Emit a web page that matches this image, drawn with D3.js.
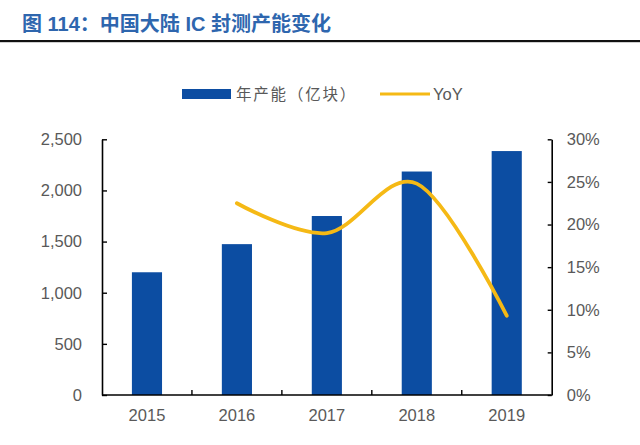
<!DOCTYPE html>
<html><head><meta charset="utf-8">
<script src="https://cdn.jsdelivr.net/npm/d3@7"></script>
<style>
html,body{margin:0;padding:0;background:#fff;}
svg{display:block;}
</style>
</head><body>
<svg id="c" width="640" height="445"></svg>
<script>
const years = ["2015","2016","2017","2018","2019"];
const capacity = [1200, 1475, 1750, 2185, 2385];
const yoy = [null, 0.225, 0.190, 0.248, 0.093];
const leftTicks = [0, 500, 1000, 1500, 2000, 2500];
const rightTicks = [0, 0.05, 0.10, 0.15, 0.20, 0.25, 0.30];
const titleText = "图 114：中国大陆 IC 封测产能变化";
const legendBar = "年产能（亿块）";
const legendLine = "YoY";

const svg = d3.select("#c");
const latin = "'Liberation Sans', Arial, sans-serif";
const cjk = "'Noto Sans CJK SC', sans-serif";
const grey = "#595959";
const blue = "#0C4DA2";
const yellow = "#F5B915";

const L = 102, R = 551.7, T = 139.3, B = 395;

// title
svg.append("text").attr("x", 22).attr("y", 31)
  .attr("font-family", "'Liberation Sans', 'Noto Sans CJK SC', sans-serif")
  .attr("font-weight", "bold").attr("font-size", 20).attr("fill", "#2E66AE")
  .text(titleText);
svg.append("rect").attr("x", 0).attr("y", 40).attr("width", 640).attr("height", 2.2).attr("fill", "#111");

const x = d3.scaleBand().domain(years).range([L, R]).paddingInner(0.665).paddingOuter(0.3325);
const yL = d3.scaleLinear().domain([0, 2500]).range([B, T]);
const yR = d3.scaleLinear().domain([0, 0.30]).range([B, T]);

// bars
svg.append("g").selectAll("rect").data(years).join("rect")
  .attr("x", d => x(d)).attr("width", x.bandwidth())
  .attr("y", (d, i) => yL(capacity[i])).attr("height", (d, i) => B - yL(capacity[i]))
  .attr("fill", blue);

// line
const pts = years.map((d, i) => [x(d) + x.bandwidth() / 2, yoy[i]]).filter(p => p[1] != null);
const line = d3.line().x(p => p[0]).y(p => yR(p[1])).curve(d3.curveCardinal.tension(0));
svg.append("path").attr("d", line(pts)).attr("fill", "none")
  .attr("stroke", yellow).attr("stroke-width", 3.8).attr("stroke-linecap", "round");

// left axis
const gL = svg.append("g").attr("transform", `translate(${L},0)`)
  .call(d3.axisLeft(yL).tickValues(leftTicks).tickFormat(d3.format(",")).tickSizeInner(-5).tickSizeOuter(0).tickPadding(20));
// right axis
const gR = svg.append("g").attr("transform", `translate(${R},0)`)
  .call(d3.axisRight(yR).tickValues(rightTicks).tickFormat(d3.format(".0%")).tickSizeInner(-4).tickSizeOuter(0).tickPadding(15));
// bottom axis
const gB = svg.append("g").attr("transform", `translate(0,${B})`)
  .call(d3.axisBottom(x).tickSize(0).tickPadding(14));
[gL, gR, gB].forEach(g => {
  g.select(".domain").attr("stroke", "#000").attr("stroke-width", 1.6);
  g.selectAll(".tick line").attr("stroke", "#000").attr("stroke-width", 1.4);
  g.selectAll("text").attr("font-family", latin).attr("font-size", 16.5).attr("fill", grey);
});
gB.select(".domain").attr("d", `M${L},0H${R}`);
// category boundary ticks (inward)
const bounds = years.slice(0, -1).map((d, i) => (x(d) + x.bandwidth() + x(years[i + 1])) / 2);
svg.append("g").selectAll("line").data(bounds).join("line")
  .attr("x1", d => d).attr("x2", d => d).attr("y1", B).attr("y2", B - 5)
  .attr("stroke", "#000").attr("stroke-width", 1.4);

// legend
svg.append("rect").attr("x", 182).attr("y", 89).attr("width", 49).attr("height", 10).attr("fill", blue);
svg.append("text").attr("x", 236).attr("y", 99.5).attr("font-family", cjk).attr("font-size", 15.5)
  .attr("letter-spacing", 1.8).attr("fill", grey).text(legendBar);
svg.append("line").attr("x1", 380).attr("x2", 430).attr("y1", 94).attr("y2", 94)
  .attr("stroke", yellow).attr("stroke-width", 3.2);
svg.append("text").attr("x", 433).attr("y", 100).attr("font-family", latin).attr("font-size", 16.5)
  .attr("fill", grey).text(legendLine);
</script>
</body></html>
